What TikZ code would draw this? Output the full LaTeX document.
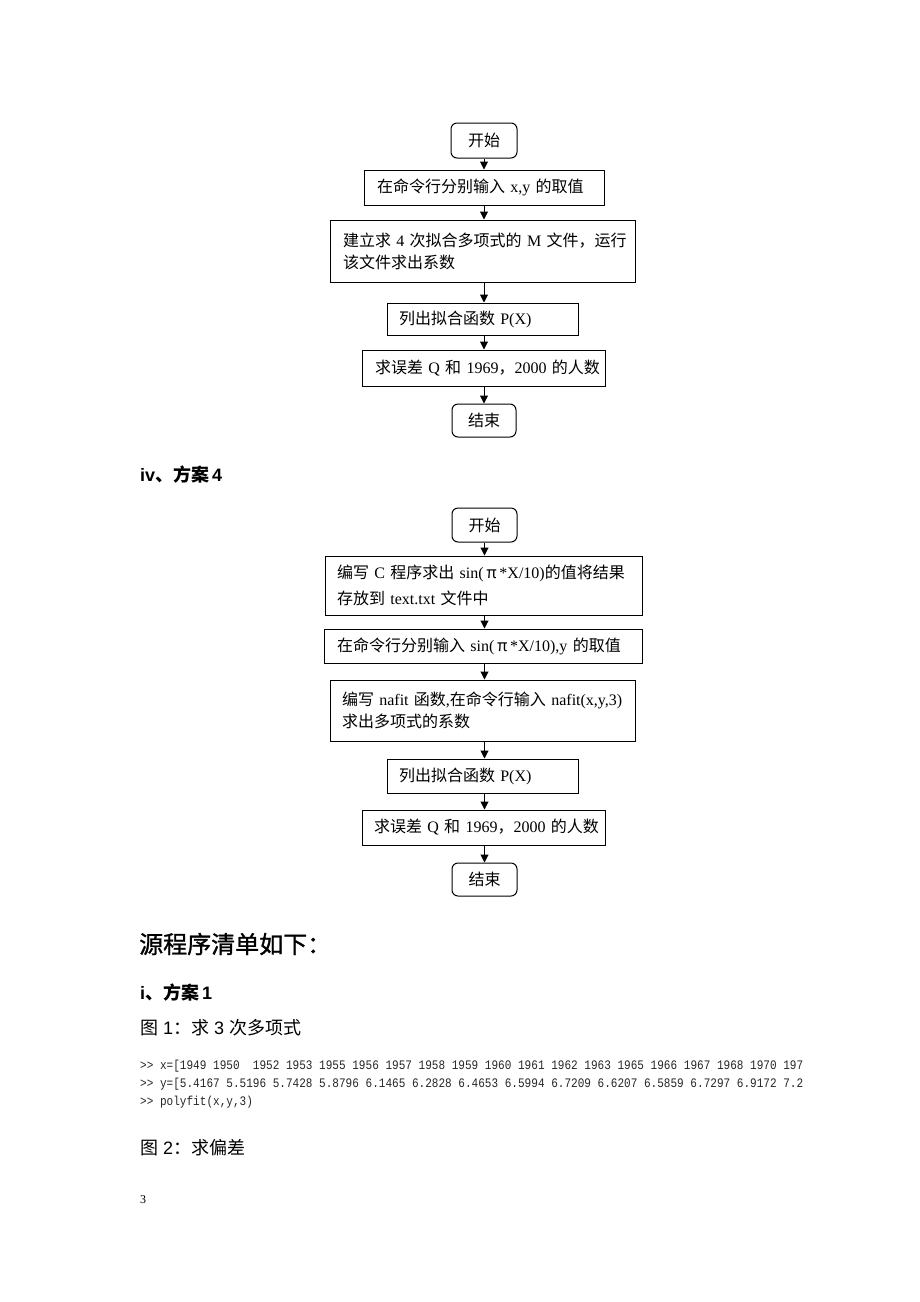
\documentclass[tikz,border=0pt]{standalone}
\usepackage{fontspec}
\setmainfont{Liberation Serif}
\setsansfont{Liberation Sans}
\setmonofont{Liberation Mono}
\newfontfamily\cjk{Noto Sans CJK SC}
\newfontfamily\cjkheavy[FakeBold=1.2]{Noto Sans CJK SC}
\newfontfamily\codefont[FakeStretch=0.85]{Liberation Mono}
\usetikzlibrary{arrows.meta}
\newcommand{\z}[1]{{\cjk #1}}
\begin{document}
\begin{tikzpicture}[x=1pt,y=-1pt,
  boxst/.style={draw, line width=1pt, align=left, inner ysep=0pt, font=\fontsize{16}{22}\selectfont},
  termst/.style={boxst, inner xsep=0pt, rounded corners=6pt, align=center},
  arr/.style={line width=1pt, -{Triangle[length=8pt,width=8pt]}},
  headst/.style={anchor=west, inner sep=0pt},
  codest/.style={anchor=west, inner sep=0pt, font=\codefont\fontsize{13}{15}\selectfont, text=black!85}]
\useasboundingbox[fill=white] (0,0) rectangle (920,1302);

% ---- flowchart 1 ----
\node[termst, minimum width=66pt, minimum height=35pt] (s1) at (484,140.5) {\z{开始}};
\node[boxst, minimum height=35pt, inner xsep=13pt, text width=214pt] (b1) at (484,187.5)
  {\mbox{\z{在命令行分别输入} x,y \z{的取值}}};
\node[boxst, minimum height=62pt, inner xsep=13pt, text width=279pt] (b2) at (482.5,251)
  {\mbox{\z{建立求} 4 \z{次拟合多项式的} M \z{文件，运行}}\\\mbox{\z{该文件求出系数}}};
\node[boxst, minimum height=32pt, inner xsep=12pt, text width=167pt] (b3) at (482.5,319)
  {\mbox{\z{列出拟合函数} P(X)}};
\node[boxst, minimum height=36pt, inner xsep=13pt, text width=217pt] (b4) at (483.5,368)
  {\mbox{\z{求误差} Q \z{和} 1969\z{，}2000 \z{的人数}}};
\node[termst, minimum width=64pt, minimum height=33pt] (e1) at (484,420.5) {\z{结束}};

\draw[arr] (s1.south) -- (s1.south |- b1.north);
\draw[arr] (b1.south -| s1.south) -- (s1.south |- b2.north);
\draw[arr] (b2.south -| s1.south) -- (s1.south |- b3.north);
\draw[arr] (b3.south -| s1.south) -- (s1.south |- b4.north);
\draw[arr] (b4.south -| s1.south) -- (s1.south |- e1.north);

% ---- heading ----
\node[headst, font=\sffamily\bfseries\fontsize{18}{20}\selectfont] (h1) at (140,475)
  {iv{\cjk\bfseries 、方案}\,4};

% ---- flowchart 2 ----
\node[termst, minimum width=65pt, minimum height=34pt] (s2) at (484.5,525) {\z{开始}};
\node[boxst, minimum height=59pt, inner xsep=12pt, text width=293pt, font=\fontsize{16}{26}\selectfont] (c1) at (483.5,585.5)
  {\mbox{\z{编写} C \z{程序求出} sin(\,\z{π}\,*X/10)\z{的值将结果}}\\\mbox{\z{存放到} text.txt \z{文件中}}};
\node[boxst, minimum height=34pt, inner xsep=13pt, text width=292pt] (c2) at (483,646)
  {\mbox{\z{在命令行分别输入} sin(\,\z{π}\,*X/10),y \z{的取值}}};
\node[boxst, minimum height=61pt, inner xsep=12pt, text width=281pt] (c3) at (482.5,710.5)
  {\mbox{\z{编写} nafit \z{函数},\z{在命令行输入} nafit(x,y,3)}\\\mbox{\z{求出多项式的系数}}};
\node[boxst, minimum height=34pt, inner xsep=12pt, text width=167pt] (c4) at (482.5,776)
  {\mbox{\z{列出拟合函数} P(X)}};
\node[boxst, minimum height=35pt, inner xsep=12pt, text width=219pt] (c5) at (483.5,827.5)
  {\mbox{\z{求误差} Q \z{和} 1969\z{，}2000 \z{的人数}}};
\node[termst, minimum width=65pt, minimum height=33pt] (e2) at (484.5,879.5) {\z{结束}};

\draw[arr] (s2.south) -- (s2.south |- c1.north);
\draw[arr] (c1.south -| s2.south) -- (s2.south |- c2.north);
\draw[arr] (c2.south -| s2.south) -- (s2.south |- c3.north);
\draw[arr] (c3.south -| s2.south) -- (s2.south |- c4.north);
\draw[arr] (c4.south -| s2.south) -- (s2.south |- c5.north);
\draw[arr] (c5.south -| s2.south) -- (s2.south |- e2.north);

% ---- source listing ----
\node[headst, font=\cjkheavy\fontsize{24}{26}\selectfont] (t1) at (139,944) {源程序清单如下：};
\node[headst, font=\sffamily\bfseries\fontsize{18}{20}\selectfont] (t2) at (140,993)
  {i{\cjk\bfseries 、方案}\,1};
\node[headst, font=\sffamily\fontsize{18}{20}\selectfont] (t3) at (140,1028)
  {\z{图} 1\z{：求} 3 \z{次多项式}};
\node[codest] (l1) at (140,1066) {>> x=[1949 1950~ 1952 1953 1955 1956 1957 1958 1959 1960 1961 1962 1963 1965 1966 1967 1968 1970 197};
\node[codest] (l2) at (140,1084) {>> y=[5.4167 5.5196 5.7428 5.8796 6.1465 6.2828 6.4653 6.5994 6.7209 6.6207 6.5859 6.7297 6.9172 7.2};
\node[codest] (l3) at (140,1102) {>> polyfit(x,y,3)};
\node[headst, font=\sffamily\fontsize{18}{20}\selectfont] (t4) at (140,1148)
  {\z{图} 2\z{：求偏差}};
\node[headst, font=\fontsize{12}{14}\selectfont] (pg) at (140,1200) {3};
\end{tikzpicture}
\end{document}
